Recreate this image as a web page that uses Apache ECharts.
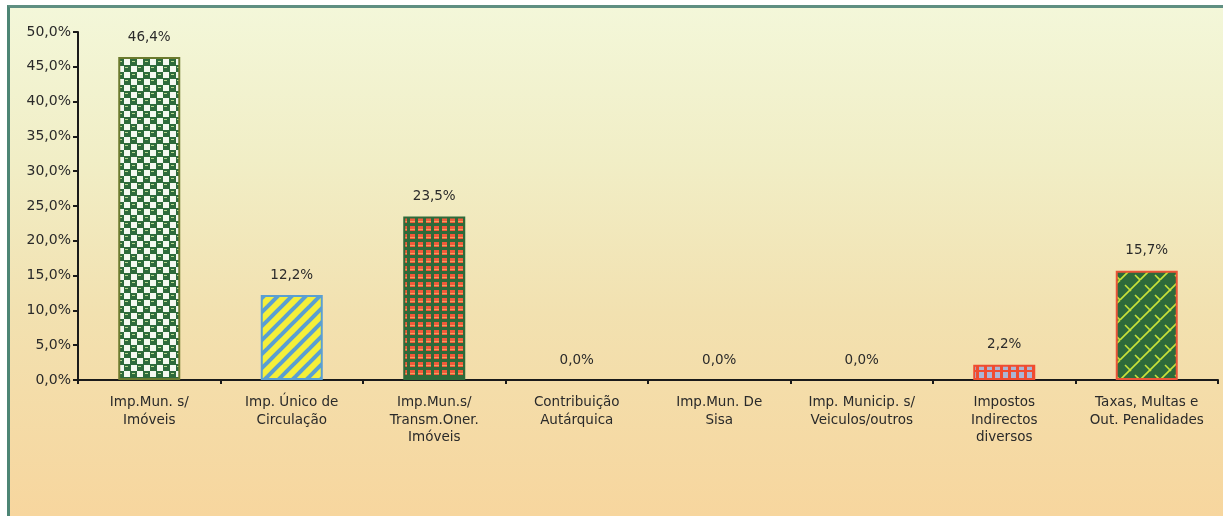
<!DOCTYPE html>
<html>
<head>
<meta charset="utf-8">
<script src="https://cdn.jsdelivr.net/npm/echarts@6/dist/echarts.min.js"></script>
<style>
html,body{margin:0;padding:0;width:1223px;height:516px;overflow:hidden;background:#fff;}
#frame{position:absolute;left:7px;top:5px;right:0;bottom:0;border-left:3px solid #4d8575;border-top:3px solid #5f8f82;
background:linear-gradient(180deg,#f3f7d9 0%,#f1eec6 30%,#f2e1b0 60%,#f7d69e 100%);}
#chart{position:absolute;left:0;top:0;width:1223px;height:516px;}
</style>
</head>
<body>
<div id="frame"></div>
<div id="chart"></div>
<script>
const categories = [
  "Imp.Mun. s/\nImóveis",
  "Imp. Único de\nCirculação",
  "Imp.Mun.s/\nTransm.Oner.\nImóveis",
  "Contribuição\nAutárquica",
  "Imp.Mun. De\nSisa",
  "Imp. Municip. s/\nVeiculos/outros",
  "Impostos\nIndirectos\ndiversos",
  "Taxas, Multas e\nOut. Penalidades"
];
const values = [46.4, 12.2, 23.5, 0.0, 0.0, 0.0, 2.2, 15.7];
const yTicks = { min: 0, max: 50, interval: 5 };

function tile(w, h, draw) {
  const c = document.createElement('canvas');
  c.width = w; c.height = h;
  draw(c.getContext('2d'), w, h);
  return c;
}
const pCheck = tile(13, 13, (g, w, h) => {
  g.fillStyle = '#2d6a3b'; g.fillRect(0, 0, w, h);
  g.fillStyle = '#f4f8f0';
  g.fillRect(1, 1, 6, 6); g.fillRect(7, 7, 6, 6);
  g.fillStyle = '#b8d890';
  g.fillRect(8, 2, 3, 1); g.fillRect(2, 9, 3, 1);
});
const pStripe = tile(14, 14, (g, w, h) => {
  g.fillStyle = '#f5ef3a'; g.fillRect(0, 0, w, h);
  g.strokeStyle = '#5a9fd2'; g.lineWidth = 4;
  for (let k = -1; k <= 1; k++) {
    g.beginPath(); g.moveTo(k * 14 - 2, h + 2); g.lineTo(k * 14 + w + 2, -2); g.stroke();
  }
});
const pGrid = tile(8, 8, (g, w, h) => {
  g.fillStyle = '#2e6a3a'; g.fillRect(0, 0, w, h);
  g.fillStyle = '#f25a3a'; g.fillRect(2, 2, 5, 5);
  g.fillStyle = '#f0a060'; g.fillRect(2, 5, 5, 1);
});
const pVert = tile(8, 8, (g, w, h) => {
  g.fillStyle = '#aab6d6'; g.fillRect(0, 0, w, h);
  g.fillStyle = '#f04c30'; g.fillRect(0, 0, 3, h); g.fillRect(0, 2, w, 2);
});
const pBrick = tile(20, 20, (g, w, h) => {
  g.fillStyle = '#2e6a3a'; g.fillRect(0, 0, w, h);
  g.strokeStyle = '#c9e23a'; g.lineWidth = 1.6;
  for (let k = -1; k <= 1; k++) {
    g.beginPath(); g.moveTo(k * 20, h); g.lineTo(k * 20 + w, 0); g.stroke();
  }
  g.beginPath(); g.moveTo(5, 5); g.lineTo(11, 11); g.stroke();
  g.beginPath(); g.moveTo(15, 15); g.lineTo(21, 21); g.stroke();
});
const fills = [
  { img: pCheck, border: '#6b7a2e' },
  { img: pStripe, border: '#5a9fd2' },
  { img: pGrid, border: '#2e6a3a' },
  { img: pGrid, border: '#2e6a3a' },
  { img: pGrid, border: '#2e6a3a' },
  { img: pGrid, border: '#2e6a3a' },
  { img: pVert, border: '#f04c30' },
  { img: pBrick, border: '#ea5438' }
];
const fmt = v => v.toFixed(1).replace('.', ',') + '%';
const FONT = 'DejaVu Sans, Verdana, sans-serif';

const chart = echarts.init(document.getElementById('chart'), null, { renderer: 'canvas' });
chart.setOption({
  backgroundColor: 'transparent',
  animation: false,
  grid: { left: 78, right: 5, top: 32, bottom: 136, containLabel: false },
  xAxis: {
    type: 'category',
    data: categories,
    axisLine: { lineStyle: { color: '#1a1a1a', width: 2 } },
    axisTick: { show: true, length: 4, lineStyle: { color: '#1a1a1a', width: 2 } },
    axisLabel: { interval: 0, color: '#2a2a2a', fontFamily: FONT, fontSize: 13.5, lineHeight: 17.5, margin: 14 }
  },
  yAxis: {
    type: 'value',
    min: yTicks.min, max: yTicks.max, interval: yTicks.interval,
    splitLine: { show: false },
    axisLine: { show: true, lineStyle: { color: '#1a1a1a', width: 2 } },
    axisTick: { show: true, length: 5, lineStyle: { color: '#1a1a1a', width: 2 } },
    axisLabel: { color: '#2a2a2a', fontFamily: FONT, fontSize: 14, margin: 7, formatter: fmt }
  },
  series: [{
    type: 'bar',
    barWidth: 62,
    data: values.map((v, i) => ({
      value: v,
      itemStyle: v > 0 ? {
        color: { image: fills[i].img, repeat: 'repeat' },
        borderColor: fills[i].border,
        borderWidth: 2
      } : { color: 'rgba(0,0,0,0)', borderWidth: 0 }
    })),
    label: {
      show: true, position: 'top', distance: 13,
      color: '#2a2a2a', fontFamily: FONT, fontSize: 13.5,
      formatter: p => fmt(p.value)
    }
  }]
});
</script>
</body>
</html>
